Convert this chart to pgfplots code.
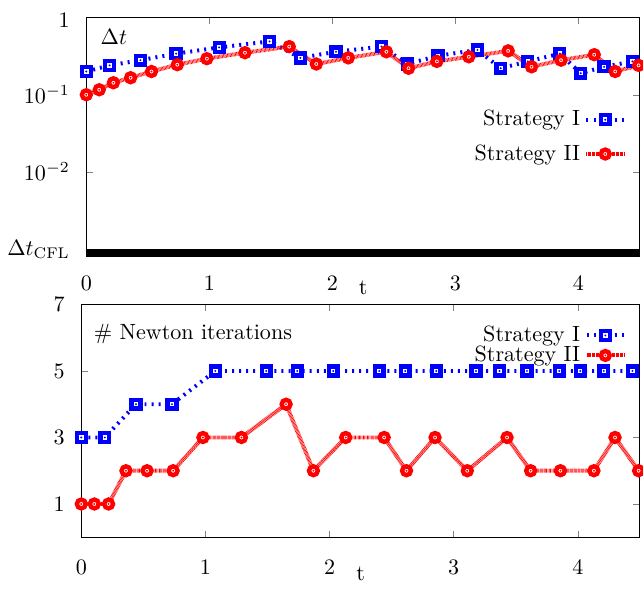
\documentclass[border=0pt]{standalone}
\usepackage{pgfplots}
\pgfplotsset{compat=1.18}
\pgfdeclareplotmark{bsq}{%
 \pgfpathrectangle{\pgfpoint{-\pgfplotmarksize}{-\pgfplotmarksize}}{\pgfpoint{2\pgfplotmarksize}{2\pgfplotmarksize}}%
 \pgfusepathqfillstroke
 \pgfscope\pgfsetfillcolor{blue}\pgfpathcircle{\pgfpointorigin}{0.5pt}\pgfusepathqfill\endpgfscope}
\pgfdeclareplotmark{rci}{%
 \pgfpathcircle{\pgfpointorigin}{\pgfplotmarksize}\pgfusepathqfillstroke
 \pgfscope\pgfsetfillcolor{red}\pgfpathcircle{\pgfpointorigin}{0.5pt}\pgfusepathqfill\endpgfscope}
\pgfplotsset{
 s1/.style={blue, line width=1.8pt, dash pattern=on 0.9pt off 2.3pt, mark=bsq, mark size=2.0pt,
   mark options={solid, fill=white, draw=blue, line width=2.0pt}},
 s2/.style={red, line width=1.8pt, dash pattern=on 0.3pt off 0.3pt, mark=rci, mark size=2.0pt,
   mark options={solid, fill=white, draw=red, line width=2.0pt}},
 common/.style={scale only axis, anchor=south west, xmin=0, xmax=4.5, xtick={0,1,2,3,4},
   major tick length=3pt, tick align=inside,
   yticklabel style={xshift=-4pt},
   xlabel={t}, legend plot pos=right,
   legend style={draw=none, fill=none, legend cell align=right, anchor=east}},
}
\begin{document}
\begin{tikzpicture}
\begin{axis}[common, at={(0,0)}, width=250.9pt, height=108.2pt,
  ymode=log, ymin=0.000813, ymax=1, yminorticks=false,
  ytick={0.001,0.01,0.1,1}, yticklabels={$\Delta t_{\mathrm{CFL}}$,$10^{-2}$,$10^{-1}$,{\raisebox{-1.4pt}[7.8pt][1.4pt]{$1$}}},
  xticklabel style={yshift=-5.8pt}, xlabel style={yshift=11.6pt},
  legend style={at={(1,0.5)}, xshift=-3pt, row sep=3pt}]
\addplot[black, line width=3pt, forget plot] coordinates {(0,0.000902) (4.5,0.000902)};
\addplot[s1] coordinates {(0,0.20) (0.19,0.24) (0.44,0.28) (0.73,0.34) (1.08,0.41) (1.49,0.49) (1.74,0.30) (2.03,0.36) (2.40,0.42) (2.61,0.25) (2.86,0.32) (3.18,0.38) (3.37,0.22) (3.59,0.27) (3.85,0.34) (4.02,0.19) (4.21,0.23) (4.44,0.27)};
\addlegendentry{Strategy I}
\addplot[s2] coordinates {(0,0.10) (0.105,0.116) (0.22,0.143) (0.36,0.166) (0.53,0.20) (0.74,0.245) (0.98,0.293) (1.29,0.35) (1.65,0.42) (1.87,0.25) (2.13,0.30) (2.44,0.36) (2.62,0.22) (2.85,0.27) (3.11,0.31) (3.43,0.37) (3.62,0.23) (3.86,0.28) (4.13,0.33) (4.30,0.20) (4.49,0.24)};
\addlegendentry{Strategy II}
\node[anchor=north west, inner sep=0pt] at ([xshift=6.3pt,yshift=-5pt]rel axis cs:0,1) {$\Delta t$};
\end{axis}
\begin{axis}[common, at={(-2.27pt,-127.4pt)}, width=253.2pt, height=105.5pt,
  ymin=0, ymax=7, ytick={1,3,5,7},
  xticklabel style={yshift=-6.8pt}, xlabel style={yshift=10pt},
  legend style={at={(1,0.824)}, xshift=-3pt, row sep=-3.5pt}]
\addplot[s1] coordinates {(0,3) (0.19,3) (0.44,4) (0.73,4) (1.08,5) (1.49,5) (1.74,5) (2.03,5) (2.40,5) (2.61,5) (2.86,5) (3.18,5) (3.37,5) (3.59,5) (3.85,5) (4.02,5) (4.21,5) (4.44,5)};
\addlegendentry{Strategy I}
\addplot[s2] coordinates {(0,1) (0.105,1) (0.22,1) (0.36,2) (0.53,2) (0.74,2) (0.98,3) (1.29,3) (1.65,4) (1.87,2) (2.13,3) (2.44,3) (2.62,2) (2.85,3) (3.11,2) (3.43,3) (3.62,2) (3.86,2) (4.13,2) (4.30,3) (4.49,2)};
\addlegendentry{Strategy II}
\node[anchor=north west, inner sep=0pt] at ([xshift=5.5pt,yshift=-8.6pt]rel axis cs:0,1) {\# Newton iterations};
\end{axis}
\end{tikzpicture}
\end{document}
